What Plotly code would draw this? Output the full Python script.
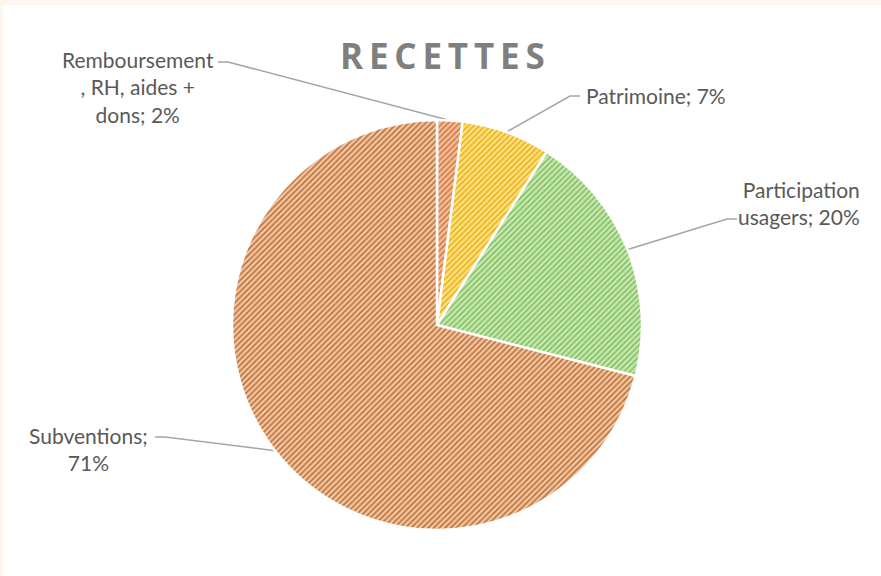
import math
import plotly.graph_objects as go

# Revenue breakdown
labels = ["Remboursement<br>, RH, aides +<br>dons", "Patrimoine", "Participation<br>usagers", "Subventions"]
values = [2, 7, 20, 71]
text_sep = ["; ", "; ", "; ", ";<br>"]
bg_colors = ["#f6c09a", "#ffe283", "#cbe9b6", "#f6c7a1"]
fg_colors = ["#cf7a45", "#e9b21c", "#82c05e", "#b8733f"]

W, H = 881, 576
cx, cy, R = 437, 325, 205

# label anchor (pixels), alignment, and leader-line start
label_pos = [(138, 87, "center", (218, 62)),
             (656, 95, "center", (580, 96)),
             (800, 203, "right", (737, 219)),
             (88, 449, "center", (155, 437))]

fig = go.Figure()

fig.add_trace(go.Pie(
    labels=labels, values=values, sort=False, direction="clockwise", rotation=0,
    textinfo="none", hoverinfo="label+percent",
    marker=dict(colors=bg_colors,
                line=dict(color="white", width=2.5),
                pattern=dict(shape="/", bgcolor=bg_colors, fgcolor=fg_colors,
                             size=4, solidity=0.42)),
    domain=dict(x=[(cx - R) / W, (cx + R) / W], y=[1 - (cy + R) / H, 1 - (cy - R) / H]),
    showlegend=False,
))

total = sum(values)
cum = 0
annotations = []
for i, v in enumerate(values):
    mid = (cum + v / 2) / total * 2 * math.pi
    cum += v
    px = cx + R * math.sin(mid)
    py = cy - R * math.cos(mid)
    lx, ly, align, (ex, ey) = label_pos[i]
    step = 10 if px > ex else -10
    fig.add_trace(go.Scatter(
        x=[ex, ex + step, px], y=[ey, ey, py], mode="lines",
        line=dict(color="#a5a5a5", width=1.5), hoverinfo="skip", showlegend=False,
        xaxis="x", yaxis="y"))
    xanchor = "right" if align == "right" else "center"
    ax = 862 if align == "right" else lx
    annotations.append(dict(
        x=ax / W, y=1 - ly / H, xref="paper", yref="paper",
        text=f"{labels[i]}{text_sep[i]}{v}%", showarrow=False,
        xanchor=xanchor, yanchor="middle", align=align,
        font=dict(family="Lato, Open Sans, sans-serif", size=21, color="#595959")))

annotations.append(dict(
    x=443 / W, y=1 - 55 / H, xref="paper", yref="paper",
    text="R\u2009E\u2009C\u2009E\u2009T\u2009T\u2009E\u2009S", showarrow=False,
    xanchor="center", yanchor="middle",
    font=dict(family="Open Sans, sans-serif", size=35, color="#7f7f7f", weight="bold")))

fig.update_layout(
    width=W, height=H, margin=dict(l=0, r=0, t=0, b=0),
    paper_bgcolor="#fdf6ef", plot_bgcolor="rgba(0,0,0,0)",
    xaxis=dict(range=[0, W], visible=False, fixedrange=True),
    yaxis=dict(range=[H, 0], visible=False, fixedrange=True),
    shapes=[dict(type="rect", xref="paper", yref="paper", x0=3 / W, x1=1, y0=0, y1=1 - 5 / H,
                 fillcolor="white", line=dict(width=0), layer="below")],
    annotations=annotations,
)

fig.write_html("out.html")
